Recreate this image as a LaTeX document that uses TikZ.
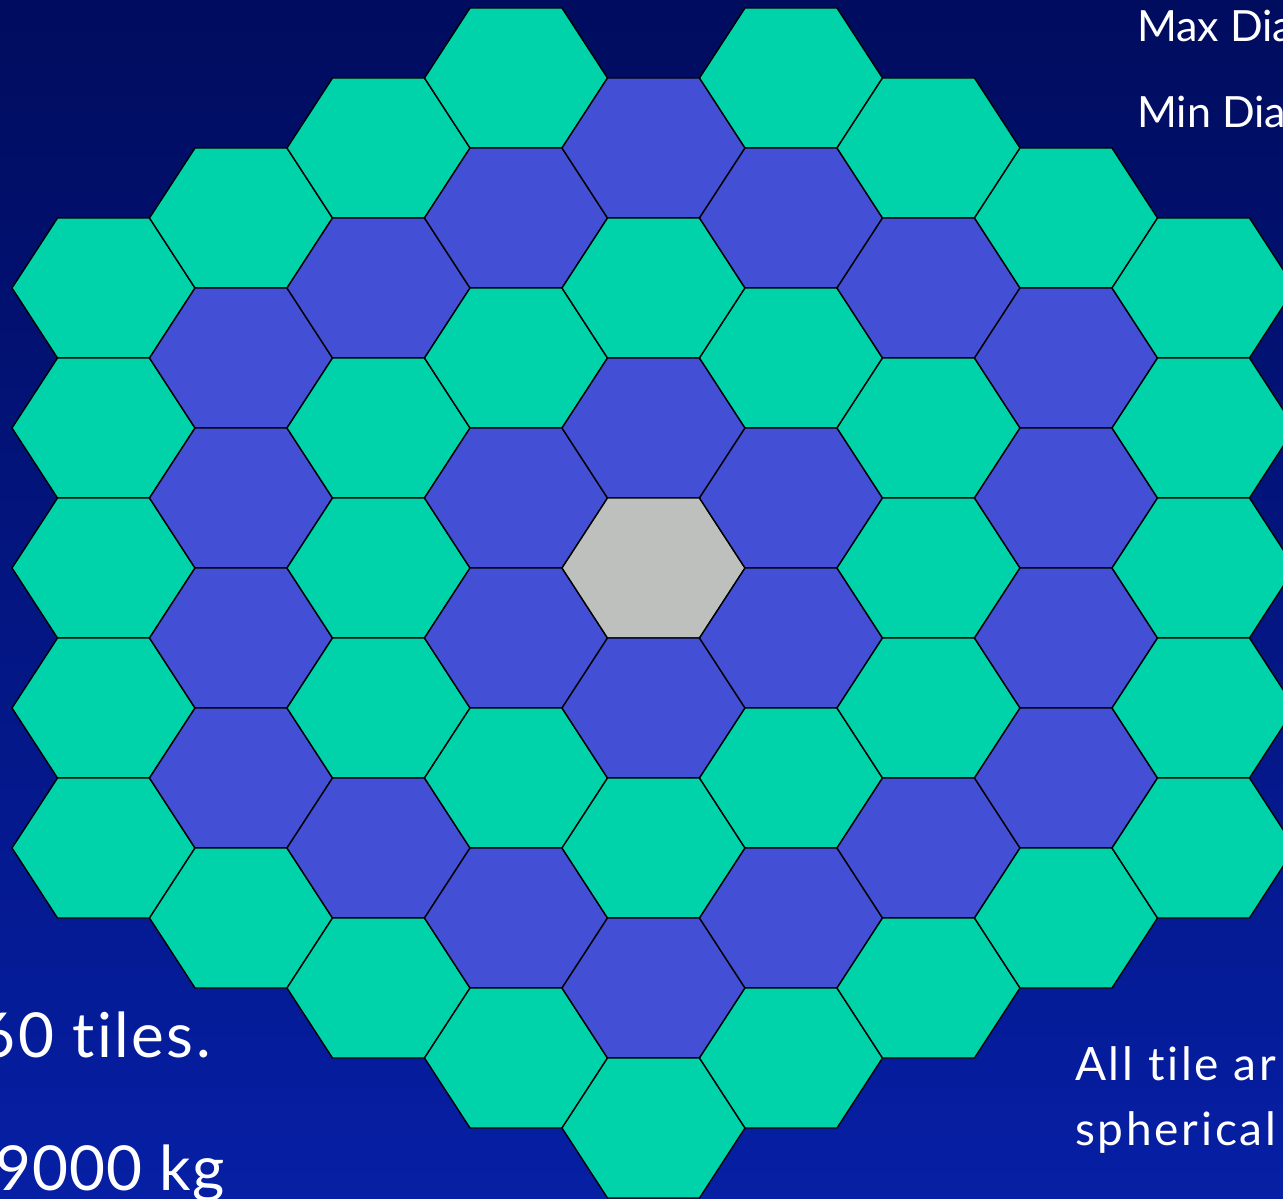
\documentclass[tikz,border=0pt]{standalone}
\usepackage{fontspec}
\setmainfont{Lato}[Ligatures=NoCommon]
\definecolor{tileg}{HTML}{00D3AA}
\definecolor{tileb}{HTML}{4350D6}
\definecolor{tilex}{HTML}{BEC0BE}
\definecolor{bgtop}{HTML}{000C5E}
\definecolor{bgbot}{HTML}{061FA4}
\begin{document}
\begin{tikzpicture}[x=1pt,y=-1pt,
  tile/.style={draw=black,line width=1.4pt,line join=miter},
  label/.style={text=white,inner sep=0pt}]
\useasboundingbox (0,0) rectangle (1283,1199);
\clip (0,0) rectangle (1283,1199);
\shade[top color=bgtop,bottom color=bgbot] (0,0) rectangle (1283,1199);
\foreach \c/\ks/\cl in {0/-4/{g,g,g,g,g},
                        1/-5/{g,b,b,b,b,g},
                        2/-6/{g,b,g,g,g,b,g},
                        3/-7/{g,b,g,b,b,g,b,g},
                        4/-6/{b,g,b,x,b,g,b,g},
                        5/-7/{g,b,g,b,b,g,b,g},
                        6/-6/{g,b,g,g,g,b,g},
                        7/-5/{g,b,b,b,b,g},
                        8/-4/{g,g,g,g,g}}{
  \foreach \t [count=\i from 0] in \cl {
    \pgfmathsetmacro\xx{103.5+137.5*\c}
    \pgfmathsetmacro\yy{568+70*(\ks+2*\i)}
    \draw[tile,fill=tile\t,shift={(\xx,\yy)}]
      (-91.5,0) -- (-46,-70) -- (46,-70) -- (91.5,0) -- (46,70) -- (-46,70) -- cycle;
  }
}
\node[label,anchor=base west,font=\fontsize{43}{50}\selectfont] (maxd) at (1137,42) {Max Dia};
\node[label,anchor=base west,font=\fontsize{43}{50}\selectfont] (mind) at (1137,128) {Min Dia};
\node[label,anchor=base east,font=\fontsize{62}{70}\selectfont\addfontfeature{LetterSpace=4}] (tiles) at (211,1057) {60 tiles.};
\node[label,anchor=base east,font=\fontsize{62}{70}\selectfont\addfontfeature{LetterSpace=2}] (mass) at (225,1190) {9000 kg};
\node[label,anchor=base west,font=\fontsize{46}{56}\selectfont\addfontfeature{LetterSpace=6}] (all) at (1075,1080) {All tile ar};
\node[label,anchor=base west,font=\fontsize{46}{56}\selectfont\addfontfeature{LetterSpace=6}] (sph) at (1075,1145) {spherical};
\end{tikzpicture}
\end{document}
